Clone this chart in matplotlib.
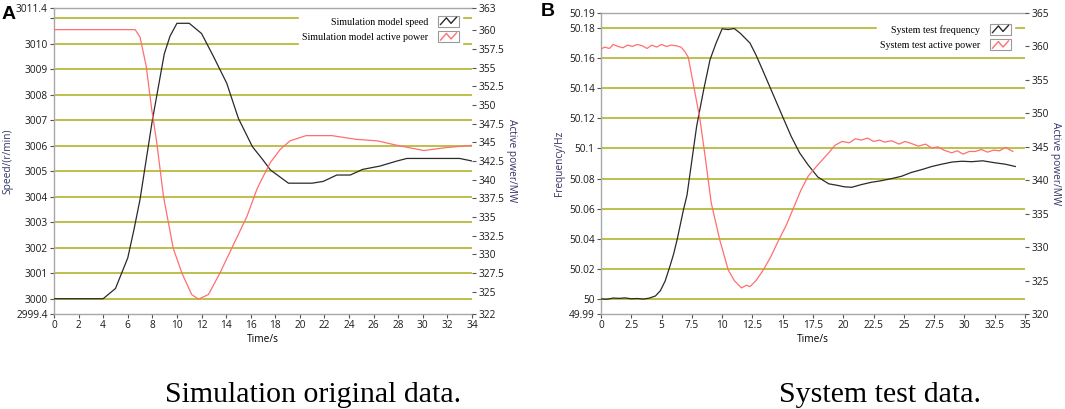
import numpy as np
import matplotlib
matplotlib.use("Agg")
import matplotlib.pyplot as plt
from matplotlib.legend_handler import HandlerBase
from matplotlib.patches import Rectangle
from matplotlib.lines import Line2D

# panel A: simulation original data
t_sim_speed = [0, 4, 5, 6, 6.5, 7, 8, 8.97, 9.44, 10, 11, 12, 12.97, 14.05, 15, 16.14,
               17, 17.6, 19.07, 21, 21.9, 23, 24.1, 25.1, 26.5, 27.9, 28.7, 33, 34]
sim_speed = [3000, 3000, 3000.4, 3001.6, 3002.7, 3003.9, 3007.0, 3009.6, 3010.3, 3010.8,
             3010.8, 3010.4, 3009.5, 3008.45, 3007.07, 3005.96, 3005.44, 3005.05, 3004.53,
             3004.53, 3004.6, 3004.85, 3004.85, 3005.07, 3005.2, 3005.4, 3005.5, 3005.5, 3005.4]
t_sim_power = [0, 6.6, 7.0, 7.5, 7.95, 8.36, 8.9, 9.7, 10.4, 11.2, 11.74, 12.56, 13.5,
               14.6, 15.7, 16.5, 16.76, 17.6, 18.4, 19.2, 20.5, 22.6, 24.6, 26.3, 27.9,
               30.1, 31.9, 34]
sim_power = [360.1, 360.1, 359.1, 355.2, 349.4, 344.95, 337.8, 330.8, 327.5, 324.6, 324.0,
             324.6, 327.5, 331.3, 335.1, 338.7, 339.6, 342.3, 344.05, 345.2, 345.9, 345.9,
             345.4, 345.2, 344.6, 343.9, 344.3, 344.6]

# panel B: system test data
t_test_freq = [0, 0.5, 1, 1.5, 2, 2.5, 3, 3.5, 4, 4.5, 4.9, 5.3, 5.7, 6.0, 6.3, 6.8, 7.1,
               7.5, 7.9, 8.5, 9.0, 9.5, 10.0, 10.5, 11.0, 11.5, 12.3, 12.8, 13.4, 14.2,
               15.0, 15.7, 16.4, 17.1, 17.9, 18.8, 19.5, 20.1, 20.7, 21.5, 22.3, 23.1,
               24.0, 24.8, 25.6, 26.5, 27.3, 28.1, 29.0, 29.8, 30.6, 31.5, 32.5, 33.4, 34.2]
test_freq = [50.0000, 49.9998, 50.0006, 50.0004, 50.0007, 50.0001, 50.0003, 49.9999,
             50.0006, 50.0020, 50.0055, 50.012, 50.022, 50.030, 50.040, 50.059, 50.069,
             50.092, 50.115, 50.140, 50.159, 50.170, 50.1795, 50.1790, 50.1797, 50.1765,
             50.170, 50.162, 50.151, 50.136, 50.121, 50.108, 50.097, 50.089, 50.081,
             50.0765, 50.0755, 50.0745, 50.0742, 50.0760, 50.0775, 50.0785, 50.0800,
             50.0815, 50.0840, 50.0860, 50.0880, 50.0895, 50.0910, 50.0915, 50.0912,
             50.0918, 50.0905, 50.0895, 50.0880]
t_test_power = [0, 0.3, 0.7, 1.0, 1.4, 1.8, 2.2, 2.6, 3.0, 3.4, 3.8, 4.2, 4.6, 5.0, 5.4,
                5.8, 6.2, 6.6, 6.9, 7.2, 7.6, 8.17, 8.6, 9.1, 9.8, 10.5, 11.0, 11.6, 12.0,
                12.3, 12.8, 13.4, 14.0, 14.6, 15.3, 15.9, 16.5, 17.1, 17.9, 18.8, 19.3,
                19.9, 20.5, 21.0, 21.5, 22.0, 22.5, 23.0, 23.4, 24.0, 24.6, 25.1, 25.6,
                26.2, 26.8, 27.3, 27.8, 28.3, 28.95, 29.4, 29.9, 30.4, 30.9, 31.4, 31.9,
                32.4, 32.9, 33.4, 33.7, 34.0]
test_power = [359.6, 359.9, 359.7, 360.3, 360.0, 359.8, 360.2, 360.0, 360.3, 360.1, 359.7,
              360.2, 359.9, 360.3, 360.0, 360.2, 360.1, 359.9, 359.3, 358.4, 354.6, 349.1,
              343.5, 336.6, 331.1, 326.6, 325.0, 323.9, 324.3, 324.1, 325.0, 326.6, 328.5,
              330.8, 333.3, 335.9, 338.5, 340.6, 342.3, 344.1, 345.2, 345.8, 345.6, 346.2,
              346.0, 346.3, 345.8, 346.0, 345.7, 345.9, 345.4, 345.8, 345.5, 345.1, 345.4,
              344.8, 345.0, 344.5, 344.1, 344.4, 343.9, 344.3, 344.3, 344.6, 344.2, 344.5,
              344.4, 344.9, 344.6, 344.3]

# axis ticks
a_xticks = np.arange(0, 35, 2)
a_left_ticks = [2999.4] + list(range(3000, 3011)) + [3011.4]
a_left_labels = ["2999.4"] + [str(v) for v in range(3000, 3011)] + ["3011.4"]
a_grid = list(range(3000, 3012))
a_right_ticks = [322, 325, 327.5, 330, 332.5, 335, 337.5, 340, 342.5, 345, 347.5, 350,
                 352.5, 355, 357.5, 360, 363]
a_right_labels = ["322", "325", "327.5", "330", "332.5", "335", "337.5", "340", "342.5",
                  "345", "347.5", "350", "352.5", "355", "357.5", "360", "363"]

b_xticks = np.arange(0, 35.1, 2.5)
b_xlabels = ["0", "2.5", "5", "7.5", "10", "12.5", "15", "17.5", "20", "22.5", "25",
             "27.5", "30", "32.5", "35"]
b_left_ticks = [49.99, 50, 50.02, 50.04, 50.06, 50.08, 50.1, 50.12, 50.14, 50.16, 50.18, 50.19]
b_left_labels = ["49.99", "50", "50.02", "50.04", "50.06", "50.08", "50.1", "50.12",
                 "50.14", "50.16", "50.18", "50.19"]
b_grid = [50, 50.02, 50.04, 50.06, 50.08, 50.1, 50.12, 50.14, 50.16, 50.18]
b_right_ticks = [320, 325, 330, 335, 340, 345, 350, 355, 360, 365]

GRID = "#b8bb3a"
SPINE = "#a8a8a8"
BLACK = "#2a2a2a"
RED = "#ff6f6f"
TICKFONT = "Open Sans"


class ZigHandler(HandlerBase):
    # little sunken box with a zigzag sample, like the LabVIEW legend
    def create_artists(self, legend, orig_handle, xdescent, ydescent, width, height,
                       fontsize, trans):
        x0, y0 = -xdescent, -ydescent - 1
        h = height + 2
        box = Rectangle((x0, y0), width, h, fc="white", ec="#9a9a9a", lw=0.8,
                        transform=trans)
        xs = x0 + width * np.array([0.12, 0.4, 0.62, 0.88])
        ys = y0 + h * np.array([0.2, 0.8, 0.3, 0.85])
        ln = Line2D(xs, ys, color=orig_handle.get_color(), lw=1.0, transform=trans)
        return [box, ln]


def style_axes(ax, ax2):
    for s in ["left", "top", "bottom"]:
        ax.spines[s].set_color(SPINE)
        ax.spines[s].set_linewidth(1.0)
    ax.spines["right"].set_visible(False)
    for s in ax2.spines:
        ax2.spines[s].set_visible(False)
    ax.tick_params(axis="both", length=3, width=0.8, color="#555555", pad=1.5,
                   labelsize=7.3)
    ax2.tick_params(axis="y", length=3, width=0.8, color="#555555", pad=1.5,
                    labelsize=7.3)
    for lab in ax.get_xticklabels() + ax.get_yticklabels() + ax2.get_yticklabels():
        lab.set_family(TICKFONT)
        lab.set_color("#1a1a1a")


def add_legend(ax2, handles, labels, anchor):
    leg = ax2.legend(handles, labels, loc="upper right", bbox_to_anchor=anchor,
                     markerfirst=False, frameon=True, fancybox=False, framealpha=1,
                     facecolor="white", edgecolor="white", borderpad=0.3,
                     handlelength=2.1, handleheight=0.9, handletextpad=1.0,
                     labelspacing=0.6, borderaxespad=0,
                     prop={"family": "Liberation Serif", "size": 7.2},
                     handler_map={Line2D: ZigHandler()})
    leg.set_zorder(10)
    return leg


fig = plt.figure(figsize=(10.65, 4.09), dpi=100)
W, H = 1065.0, 409.0

# ---- panel A
axA = fig.add_axes([54 / W, 1 - 314 / H, (472 - 54) / W, (314 - 8) / H])
axA2 = axA.twinx()
for g in a_grid:
    axA.axhline(g, color=GRID, lw=1.3, zorder=1)
axA.plot(t_sim_speed, sim_speed, color=BLACK, lw=0.9, zorder=3)
axA2.plot(t_sim_power, sim_power, color=RED, lw=0.9, zorder=3)
axA.set_xlim(0, 34)
axA.set_ylim(2999.4, 3011.4)
axA2.set_ylim(322, 363)
axA.set_xticks(a_xticks)
axA.set_yticks(a_left_ticks)
axA.set_yticklabels(a_left_labels)
axA.set_yticks([3011], minor=True)
axA.tick_params(axis="y", which="minor", length=3, width=0.8, color="#555555")
axA2.set_yticks(a_right_ticks)
axA2.set_yticklabels(a_right_labels)
style_axes(axA, axA2)
axA.set_xlabel("Time/s", family=TICKFONT, fontsize=7.3, labelpad=2)
axA.set_ylabel("Speed/(r/min)", family=TICKFONT, fontsize=7.3, labelpad=2, color="#333366")
axA2.set_ylabel("Active power/MW", family=TICKFONT, fontsize=7.3, rotation=270,
                labelpad=9, color="#333366")
hA = [Line2D([], [], color=BLACK), Line2D([], [], color=RED)]
add_legend(axA2, hA, ["Simulation model speed", "Simulation model active power"],
           ((462 - 54) / 418.0, (314 - 14) / 306.0))

# ---- panel B
axB = fig.add_axes([601 / W, 1 - 314 / H, (1025 - 601) / W, (314 - 13) / H])
axB2 = axB.twinx()
for g in b_grid:
    axB.axhline(g, color=GRID, lw=1.3, zorder=1)
axB.plot(t_test_freq, test_freq, color=BLACK, lw=0.9, zorder=3)
axB2.plot(t_test_power, test_power, color=RED, lw=0.9, zorder=3)
axB.set_xlim(0, 35)
axB.set_ylim(49.99, 50.19)
axB2.set_ylim(320, 365)
axB.set_xticks(b_xticks)
axB.set_xticklabels(b_xlabels)
axB.set_yticks(b_left_ticks)
axB.set_yticklabels(b_left_labels)
axB2.set_yticks(b_right_ticks)
style_axes(axB, axB2)
axB.set_xlabel("Time/s", family=TICKFONT, fontsize=7.3, labelpad=2)
axB.set_ylabel("Frequency/Hz", family=TICKFONT, fontsize=7.3, labelpad=3, color="#333366")
axB2.set_ylabel("Active power/MW", family=TICKFONT, fontsize=7.3, rotation=270,
                labelpad=9, color="#333366")
hB = [Line2D([], [], color=BLACK), Line2D([], [], color=RED)]
add_legend(axB2, hB, ["System test frequency", "System test active power"],
           ((1014 - 601) / 424.0, (314 - 22) / 301.0))

# panel letters and captions
fig.text(2 / W, 1 - 6 / H, "A", family="Liberation Sans", weight="bold", fontsize=14,
         va="top", ha="left")
fig.text(541 / W, 1 - 3 / H, "B", family="Liberation Sans", weight="bold", fontsize=14,
         va="top", ha="left")
fig.text(313 / W, 1 - 402 / H, "Simulation original data.", family="Liberation Serif",
         fontsize=21.5, ha="center", va="baseline")
fig.text(880 / W, 1 - 402 / H, "System test data.", family="Liberation Serif",
         fontsize=21.5, ha="center", va="baseline")

fig.savefig("out.png", dpi=100, facecolor="white")
